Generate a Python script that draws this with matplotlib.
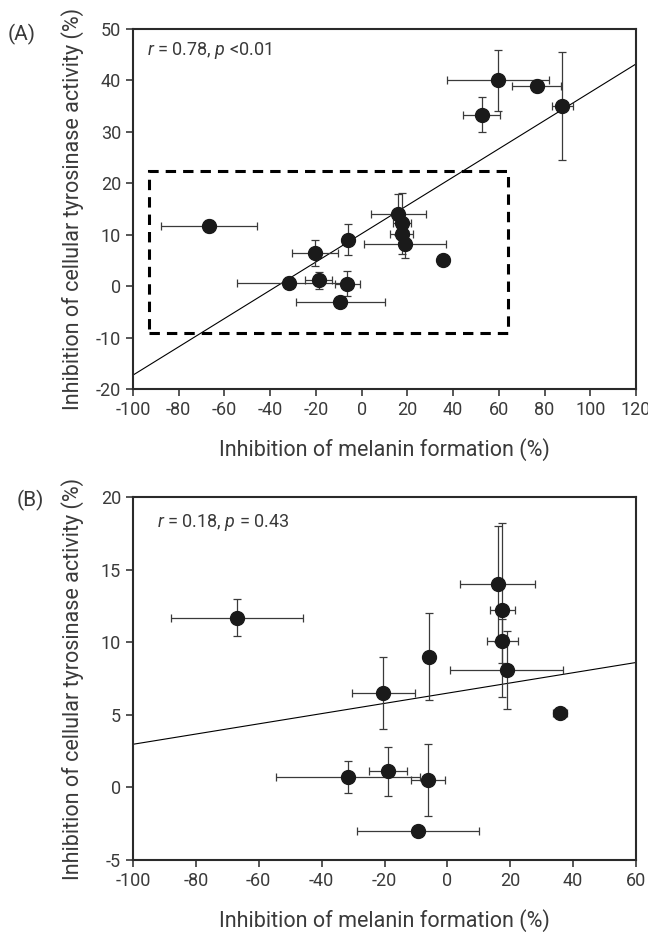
import matplotlib
matplotlib.use("Agg")
import matplotlib.pyplot as plt
from matplotlib.patches import Rectangle
import numpy as np

plt.rcParams['font.family'] = ['Roboto', 'Liberation Sans', 'DejaVu Sans']
plt.rcParams['axes.unicode_minus'] = False
plt.rcParams['mathtext.fontset'] = 'custom'
plt.rcParams['mathtext.it'] = 'Roboto:italic'
plt.rcParams['mathtext.rm'] = 'Roboto'

# lower cluster (shared by both panels)
low_x = [-66.8, -20.4, -5.8, -31.6, -18.8, -6.2, -9.3, 16.0, 17.5, 17.5, 18.9, 35.8]
low_y = [11.7, 6.5, 9.0, 0.7, 1.1, 0.5, -3.0, 14.0, 12.2, 10.1, 8.1, 5.1]
low_xerr = [21.0, 10.0, 0.0, 23.0, 6.0, 5.3, 19.5, 12.0, 4.0, 5.0, 18.0, 2.3]
low_yerr = [1.25, 2.5, 3.0, 1.1, 1.7, 2.5, 0.0, 4.0, 6.0, 1.5, 2.7, 0.0]

# upper group (panel A only)
up_x = [59.6, 76.6, 52.5, 87.8]
up_y = [40.0, 38.9, 33.3, 35.0]
up_xerr = [22.2, 10.7, 8.0, 4.5]
up_yerr = [5.9, 1.2, 3.4, 10.5]

# regression lines (slope, intercept)
fit_a = (0.275, 10.2)
fit_b = (0.0352, 6.49)

box_a = (-93, -9.2, 64, 22.3)  # x0, y0, x1, y1 of dashed region

W, H = 648, 932
fig = plt.figure(figsize=(W / 100, H / 100), dpi=100)

TXT = '#3a3a3a'
DOT = '#1a1a1a'


def frac(l, t, r, b):
    return [l / W, 1 - b / H, (r - l) / W, (b - t) / H]


def style(ax, xlim, ylim, xticks, yticks, top, bottom):
    ax.set_xlim(*xlim)
    ax.set_ylim(*ylim)
    ax.set_xticks(xticks)
    ax.set_yticks(yticks)
    ax.tick_params(direction='out', length=5, width=1.2, color=TXT,
                   labelsize=13, labelcolor=TXT, pad=3.5, top=False, right=False)
    for s in ax.spines.values():
        s.set_linewidth(1.5)
        s.set_color('#2a2a2a')
    ax.set_xlabel('Inhibition of melanin formation (%)', fontsize=15.5, color=TXT,
                  va='center', ha='center')
    ax.set_ylabel('Inhibition of cellular tyrosinase activity (%)', fontsize=15.5, color=TXT,
                  va='center', ha='center')
    h = bottom - top
    ax.xaxis.set_label_coords(0.5, -61 / h)
    ax.yaxis.set_label_coords((73 - 133) / 503, 0.5)


def points(ax, x, y, xe, ye):
    ax.errorbar(x, y, xerr=xe, yerr=ye, fmt='none', ecolor='#3a3a3a',
                elinewidth=0.9, capsize=3, capthick=0.9, zorder=2)
    ax.plot(x, y, 'o', color=DOT, markersize=10, zorder=3)


# panel A
axa = fig.add_axes(frac(133, 29, 636, 389))
xs = np.array([-100, 120])
axa.plot(xs, fit_a[0] * xs + fit_a[1], color='black', lw=0.8, zorder=1)
points(axa, low_x + up_x, low_y + up_y, low_xerr + up_xerr, low_yerr + up_yerr)
axa.add_patch(Rectangle((box_a[0], box_a[1]), box_a[2] - box_a[0], box_a[3] - box_a[1],
                        fill=False, lw=2.2, ls=(0, (3.4, 2.3)), ec='black', zorder=4))
style(axa, (-100, 120), (-20, 50), np.arange(-100, 121, 20), np.arange(-20, 51, 10), 29, 389)
axa.text(0.027, 0.94, r'$r$ = 0.78, $p$ <0.01', transform=axa.transAxes,
         fontsize=13, color=TXT, va='center')
fig.text(22 / W, 1 - 34 / H, '(A)', fontsize=15, color=TXT, ha='center', va='center')

# panel B
axb = fig.add_axes(frac(133, 497, 636, 860))
xs = np.array([-100, 60])
axb.plot(xs, fit_b[0] * xs + fit_b[1], color='black', lw=0.8, zorder=1)
points(axb, low_x, low_y, low_xerr, low_yerr)
style(axb, (-100, 60), (-5, 20), np.arange(-100, 61, 20), np.arange(-5, 21, 5), 497, 860)
axb.text(0.047, 0.93, r'$r$ = 0.18, $p$ = 0.43', transform=axb.transAxes,
         fontsize=13, color=TXT, va='center')
fig.text(30 / W, 1 - 500 / H, '(B)', fontsize=15, color=TXT, ha='center', va='center')

fig.savefig('out.png', dpi=100)
